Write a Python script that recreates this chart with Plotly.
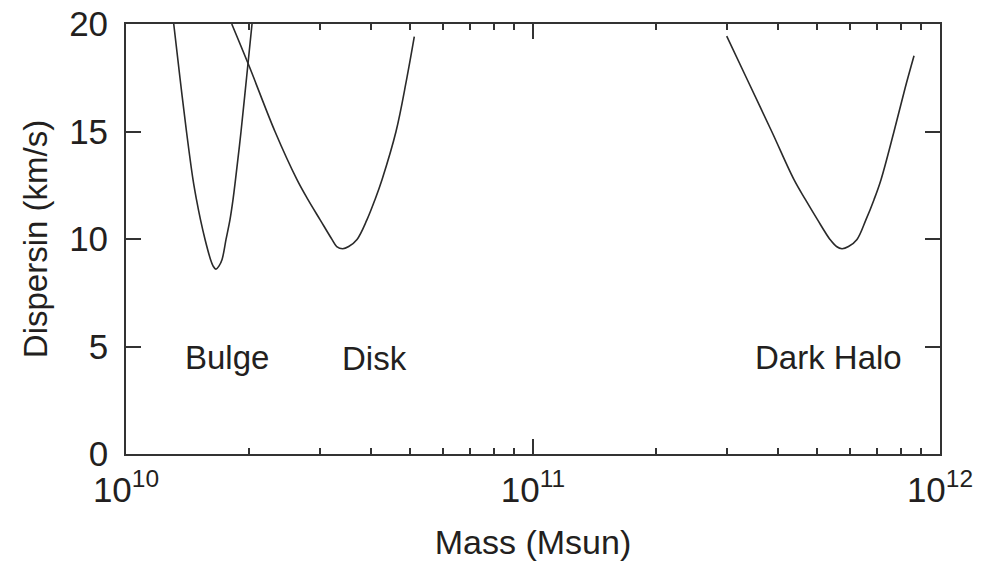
import math
import plotly.graph_objects as go

# Data (mass in Msun, dispersion in km/s)
bulge_mass = [1.310e10, 1.357e10, 1.408e10, 1.461e10, 1.490e10, 1.524e10, 1.564e10,
              1.613e10, 1.636e10, 1.664e10, 1.693e10, 1.722e10, 1.761e10, 1.801e10,
              1.832e10, 1.858e10, 1.917e10, 1.978e10, 2.040e10]
bulge_disp = [20.0, 17.5, 15.0, 12.76, 11.83, 10.9, 9.98,
              9.05, 8.75, 8.6, 8.75, 9.05, 9.98, 10.9,
              11.83, 12.76, 15.0, 17.5, 20.0]

disk_mass = [1.819e10, 2.009e10, 2.323e10, 2.631e10, 2.800e10, 2.997e10, 3.207e10,
             3.294e10, 3.407e10, 3.525e10, 3.695e10, 3.910e10, 4.090e10, 4.256e10,
             4.607e10, 4.889e10, 5.109e10]
disk_disp = [20.0, 18.02, 15.0, 12.76, 11.83, 10.9, 9.98,
             9.65, 9.55, 9.65, 9.98, 10.9, 11.83, 12.76,
             15.0, 17.4, 19.41]

halo_mass = [2.992e11, 3.344e11, 3.860e11, 4.378e11, 4.672e11, 5.000e11, 5.367e11,
             5.568e11, 5.744e11, 5.959e11, 6.253e11, 6.579e11, 6.884e11, 7.162e11,
             7.709e11, 8.204e11, 8.634e11]
halo_disp = [19.44, 17.5, 15.0, 12.76, 11.83, 10.9, 9.98,
             9.65, 9.55, 9.65, 9.98, 10.9, 11.83, 12.76,
             15.0, 17.0, 18.52]

labels = ["Bulge", "Disk", "Dark Halo"]
label_mass = [1.77e10, 4.09e10, 5.31e11]
label_disp = [4.5, 4.45, 4.5]

x_major = [1e10, 1e11, 1e12]
x_major_text = ["10<sup>10</sup>", "10<sup>11</sup>", "10<sup>12</sup>"]
x_minor = [k * 1e10 for k in range(2, 10)] + [k * 1e11 for k in range(2, 10)]
y_ticks = [0, 5, 10, 15, 20]

FONT = "Liberation Sans, Arial, sans-serif"
LINE = "#333333"
TXT = "#231f20"

fig = go.Figure()
for m, d in [(bulge_mass, bulge_disp), (disk_mass, disk_disp), (halo_mass, halo_disp)]:
    fig.add_trace(go.Scatter(x=m, y=d, mode="lines",
                             line=dict(color="#2a2a2a", width=1.6, shape="spline", smoothing=1.0),
                             showlegend=False, hoverinfo="skip"))

for t, xm, yd in zip(labels, label_mass, label_disp):
    fig.add_annotation(x=math.log10(xm), y=yd, xref="x", yref="y", text=t, showarrow=False,
                       font=dict(family=FONT, size=33, color=TXT))

fig.update_layout(
    width=983, height=564,
    margin=dict(l=126, r=43, t=24, b=110),
    paper_bgcolor="white", plot_bgcolor="white",
    font=dict(family=FONT, size=34, color=TXT),
    xaxis=dict(type="log", range=[10, 12.00001], tickmode="array",
               tickvals=x_major, ticktext=x_major_text, automargin=False,
               ticks="inside", ticklen=15, tickwidth=1.5, tickcolor=LINE,
               showline=True, linecolor=LINE, linewidth=1.8, mirror="ticks",
               showgrid=False, zeroline=False, ticklabelstandoff=4,
               minor=dict(tickmode="array", tickvals=x_minor, ticks="inside",
                          ticklen=6, tickwidth=1.5, tickcolor=LINE, showgrid=False),
               title=dict(text="Mass (Msun)", font=dict(size=34), standoff=22),
               tickfont=dict(size=35)),
    yaxis=dict(range=[0, 20], tickmode="array", tickvals=y_ticks, automargin=False,
               ticks="inside", ticklen=15, tickwidth=1.5, tickcolor=LINE,
               showline=True, linecolor=LINE, linewidth=1.8, mirror="ticks",
               showgrid=False, zeroline=False, ticklabelstandoff=9,
               title=dict(text="Dispersin (km/s)", font=dict(size=33), standoff=12),
               tickfont=dict(size=35)),
)

fig.write_html("out.html")
